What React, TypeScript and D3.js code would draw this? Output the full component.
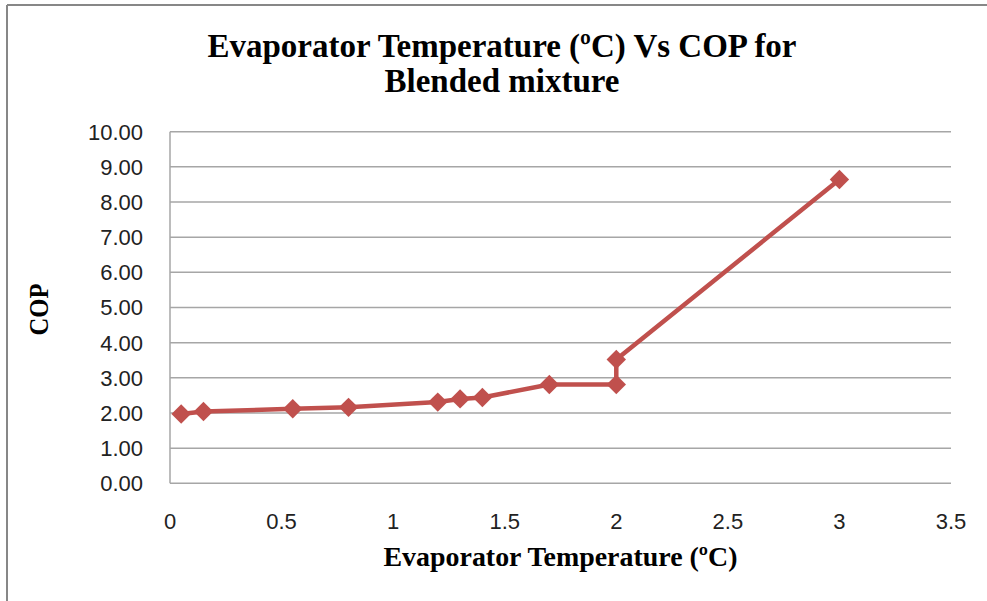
import React from "react";
import * as d3 from "d3";

const temps = [0.05, 0.15, 0.55, 0.8, 1.2, 1.3, 1.4, 1.7, 2.0, 2.0, 3.0];
const cops = [1.97, 2.04, 2.12, 2.16, 2.31, 2.4, 2.44, 2.81, 2.81, 3.52, 8.64];
const xTicks = [0, 0.5, 1, 1.5, 2, 2.5, 3, 3.5];
const yTicks = [0, 1, 2, 3, 4, 5, 6, 7, 8, 9, 10];
const titleLines = ["Evaporator Temperature (ºC) Vs COP for", "Blended mixture"];
const xTitle = "Evaporator Temperature (ºC)";
const yTitle = "COP";

export default function App() {
  const W = 987, H = 601;
  const left = 170, right = 951, top = 131.7, bottom = 483.3;
  const x = d3.scaleLinear().domain([0, 3.5]).range([left, right]);
  const y = d3.scaleLinear().domain([0, 10]).range([bottom, top]);
  const data = temps.map((t, i) => ({ t, c: cops[i] }));
  const line = d3.line<{ t: number; c: number }>().x(d => x(d.t)).y(d => y(d.c))(data) || "";
  const diamond = d3.symbol().type(d3.symbolDiamond2).size(240)() || "";
  const serif = "'Liberation Serif', 'Times New Roman', serif";
  const sans = "'Liberation Sans', Arial, sans-serif";
  return (
    <svg width={W} height={H} style={{ position: "absolute", left: 0, top: 0, background: "#fff" }}>
      <rect x={0} y={0} width={W} height={H} fill="#fff" />
      <line x1={7} y1={5} x2={W} y2={5} stroke="#878787" strokeWidth={2} />
      <line x1={7} y1={5} x2={7} y2={H} stroke="#878787" strokeWidth={2} />
      <text x={502} y={57} textAnchor="middle" fontFamily={serif} fontWeight="bold" fontSize={33} textLength={589} lengthAdjust="spacingAndGlyphs">{titleLines[0]}</text>
      <text x={502} y={92} textAnchor="middle" fontFamily={serif} fontWeight="bold" fontSize={33} textLength={235} lengthAdjust="spacingAndGlyphs">{titleLines[1]}</text>
      {yTicks.map(v => (
        <g key={"y" + v}>
          <line x1={left} x2={right} y1={y(v)} y2={y(v)} stroke="#a6a6a6" strokeWidth={1.5} />
          <text x={143} y={y(v)} dy="0.36em" textAnchor="end" fontFamily={sans} fontSize={22} fill="#222">{v.toFixed(2)}</text>
        </g>
      ))}
      <line x1={left} x2={left} y1={top} y2={bottom} stroke="#a6a6a6" strokeWidth={1.5} />
      {xTicks.map(v => (
        <text key={"x" + v} x={x(v)} y={521} dy="0.36em" textAnchor="middle" fontFamily={sans} fontSize={22} fill="#222">{String(v)}</text>
      ))}
      <text x={(left + right) / 2} y={566} textAnchor="middle" fontFamily={serif} fontWeight="bold" fontSize={28} textLength={354} lengthAdjust="spacingAndGlyphs">{xTitle}</text>
      <text transform={`translate(48,${(top + bottom) / 2 + 2}) rotate(-90)`} textAnchor="middle" fontFamily={serif} fontWeight="bold" fontSize={28} textLength={52} lengthAdjust="spacingAndGlyphs">{yTitle}</text>
      <path d={line} fill="none" stroke="#C0504D" strokeWidth={4.5} strokeLinejoin="round" />
      {data.map((d, i) => (
        <path key={i} d={diamond} transform={`translate(${x(d.t)},${y(d.c)})`} fill="#C0504D" />
      ))}
    </svg>
  );
}
